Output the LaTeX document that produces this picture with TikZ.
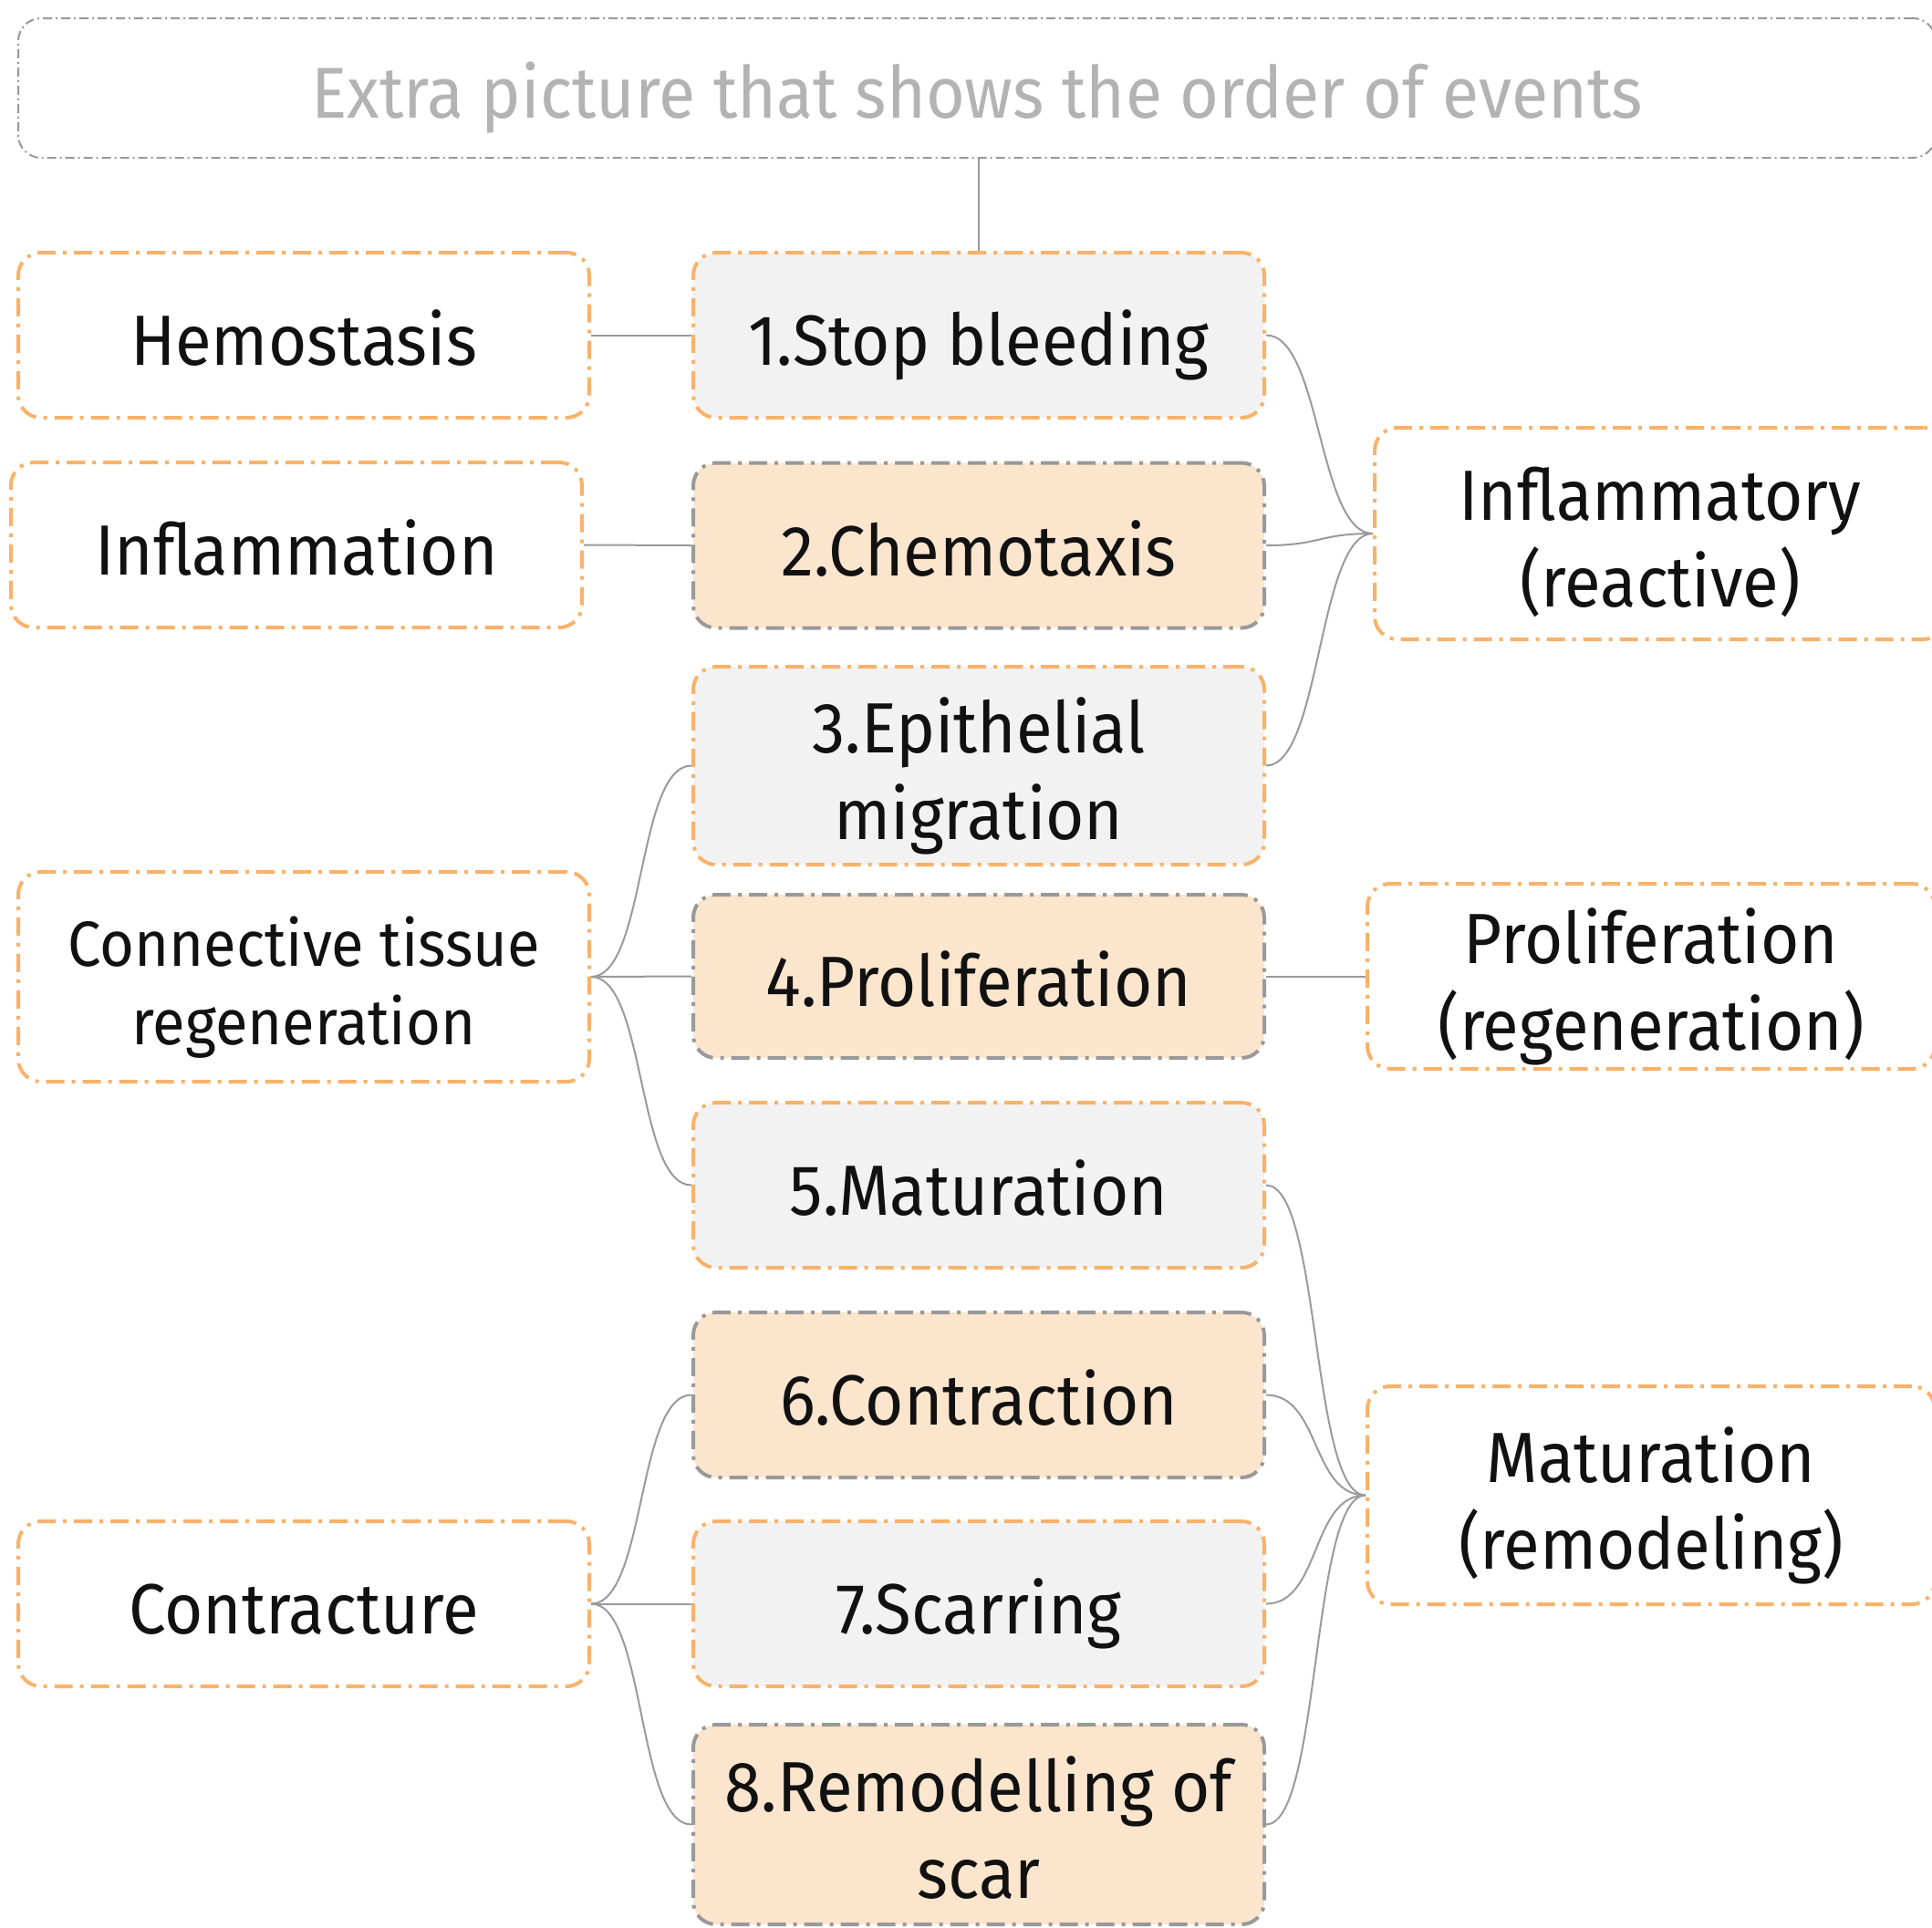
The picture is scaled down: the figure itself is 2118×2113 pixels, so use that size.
\documentclass[tikz,border=0pt]{standalone}
\usepackage{fontspec}
\setmainfont{Fira Sans}[FakeStretch=0.93]
\definecolor{orng}{HTML}{F8B26A}
\definecolor{gbord}{HTML}{999999}
\definecolor{lgray}{HTML}{F2F2F2}
\definecolor{peach}{HTML}{FCE5CD}
\definecolor{ttl}{HTML}{B3B3B3}
\definecolor{txt}{HTML}{111111}
\definecolor{lin}{HTML}{9A9A9A}
\newcommand\tx[1]{\raisebox{-14pt}[\height][\depth]{\begin{tabular}{@{}c@{}}#1\end{tabular}}}
\tikzset{
  base/.style={rounded corners=25pt, minimum width=626pt, minimum height=181pt,
    align=center, inner sep=0pt, text=txt, line width=4pt,
    dash pattern=on 20pt off 8pt on 4pt off 8pt,
    font=\fontsize{78}{95}\selectfont},
  oddbox/.style={base, draw=orng, fill=lgray},
  evenbox/.style={base, draw=gbord, fill=peach},
  sidebox/.style={base, draw=orng, fill=white},
  titlebox/.style={rounded corners=25pt, draw=gbord, line width=2pt,
    dash pattern=on 10pt off 4pt on 2pt off 4pt,
    minimum width=2102pt, minimum height=153pt, inner sep=0pt,
    text=ttl, font=\fontsize{79}{95}\selectfont},
  conn/.style={draw=lin, line width=2pt}
}
\begin{document}
\begin{tikzpicture}[x=1pt,y=-1pt]
\useasboundingbox (0,0) rectangle (2118,2113);
\node[titlebox] (title) at (1071,96.5) {\tx{Extra picture that shows the order of events}};

\node[oddbox] (b1) at (1073,367.5) {\tx{1.Stop bleeding}};
\node[evenbox] (b2) at (1073,598) {\tx{2.Chemotaxis}};
\node[oddbox, minimum height=217pt] (b3) at (1073,839.5) {\tx{3.Epithelial\\migration}};
\node[evenbox, minimum height=179pt] (b4) at (1073,1070.5) {\tx{4.Proliferation}};
\node[oddbox] (b5) at (1073,1299.5) {\tx{5.Maturation}};
\node[evenbox] (b6) at (1073,1529.5) {\tx{6.Contraction}};
\node[oddbox] (b7) at (1073,1758.5) {\tx{7.Scarring}};
\node[evenbox, minimum height=219pt] (b8) at (1073,2000.5) {\tx{8.Remodelling of\\scar}};

\node[sidebox] (hemo) at (333,367.5) {\tx{Hemostasis}};
\node[sidebox] (infl) at (325,597.5) {\tx{Inflammation}};
\node[sidebox, minimum height=230pt, font=\fontsize{70}{86}\selectfont] (ctr) at (333,1071) {\tx{Connective tissue\\regeneration}};
\node[sidebox] (contr) at (333,1758.5) {\tx{Contracture}};

\node[sidebox, minimum height=232pt] (inflr) at (1820,585) {\tx{Inflammatory\\(reactive)}};
\node[sidebox, minimum width=622pt, minimum height=203pt] (prolr) at (1810,1070.5) {\tx{Proliferation\\(regeneration)}};
\node[sidebox, minimum width=622pt, minimum height=239pt] (matr) at (1810,1639.5) {\tx{Maturation\\(remodeling)}};

\draw[conn] (title.south -| b1.north) -- (b1.north);
\draw[conn] (hemo.east) -- (b1.west);
\draw[conn] (infl.east) -- (b2.west);
\draw[conn] (b4.east) -- (prolr.west);
\draw[conn] (ctr.east) -- (b4.west);
\draw[conn] (contr.east) -- (b7.west);

\foreach \n in {b1,b2,b3}
  \draw[conn] (\n.east) .. controls +(60,0) and +(-60,0) .. (inflr.west);
\foreach \n in {b5,b6,b7,b8}
  \draw[conn] (\n.east) .. controls +(60,0) and +(-60,0) .. (matr.west);
\foreach \n in {b3,b5}
  \draw[conn] (ctr.east) .. controls +(60,0) and +(-60,0) .. (\n.west);
\foreach \n in {b6,b8}
  \draw[conn] (contr.east) .. controls +(60,0) and +(-60,0) .. (\n.west);
\end{tikzpicture}
\end{document}
